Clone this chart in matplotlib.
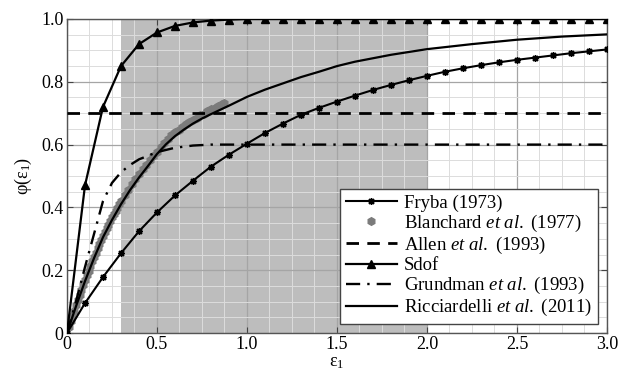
import numpy as np
import matplotlib
matplotlib.use("Agg")
import matplotlib.pyplot as plt
from matplotlib.ticker import MultipleLocator

plt.rcParams["font.family"] = "serif"
plt.rcParams["font.serif"] = ["Liberation Serif", "DejaVu Serif"]
plt.rcParams["mathtext.fontset"] = "custom"
plt.rcParams["mathtext.rm"] = "Liberation Serif"
plt.rcParams["mathtext.it"] = "Liberation Serif:italic"

# Reduced velocity grid shared by the marker curves (step 0.1)
eps_grid = [round(0.1 * i, 1) for i in range(31)]

fryba_phi = [0.0, 0.095, 0.178, 0.254, 0.324, 0.384, 0.438, 0.485, 0.530, 0.568,
             0.603, 0.637, 0.667, 0.695, 0.717, 0.737, 0.756, 0.774, 0.790, 0.805,
             0.819, 0.832, 0.843, 0.853, 0.862, 0.870, 0.877, 0.884, 0.891, 0.897,
             0.903]

sdof_phi = [0.0, 0.47, 0.72, 0.85, 0.92, 0.957, 0.978, 0.989, 0.995, 0.998,
            1.0, 1.0, 1.0, 1.0, 1.0, 1.0, 1.0, 1.0, 1.0, 1.0,
            1.0, 1.0, 1.0, 1.0, 1.0, 1.0, 1.0, 1.0, 1.0, 1.0, 1.0]

# Experimental data (Blanchard et al.)
blanchard_eps = [0.01, 0.02, 0.03, 0.04, 0.05, 0.06, 0.07, 0.08, 0.09, 0.10,
                 0.11, 0.12, 0.13, 0.14, 0.15, 0.16, 0.17, 0.18, 0.19, 0.20,
                 0.21, 0.22, 0.23, 0.24, 0.25, 0.26, 0.27, 0.28, 0.29, 0.30,
                 0.32, 0.34, 0.36, 0.38, 0.40, 0.42, 0.44, 0.46, 0.48, 0.50,
                 0.52, 0.54, 0.56, 0.58, 0.60, 0.62, 0.64, 0.66, 0.68, 0.70,
                 0.72, 0.74, 0.76, 0.78, 0.80, 0.82, 0.84, 0.86, 0.87]
blanchard_phi = [0.020, 0.037, 0.053, 0.070, 0.088, 0.104, 0.120, 0.136, 0.152, 0.168,
                 0.184, 0.198, 0.213, 0.228, 0.243, 0.256, 0.270, 0.283, 0.297, 0.310,
                 0.322, 0.334, 0.345, 0.357, 0.368, 0.379, 0.389, 0.399, 0.410, 0.419,
                 0.438, 0.456, 0.474, 0.491, 0.506, 0.521, 0.536, 0.550, 0.564, 0.578,
                 0.592, 0.606, 0.618, 0.629, 0.639, 0.648, 0.657, 0.665, 0.673, 0.679,
                 0.686, 0.693, 0.699, 0.706, 0.712, 0.718, 0.724, 0.729, 0.733]

allen_eps = [0.0, 3.0]
allen_phi = [0.7, 0.7]

grundman_eps = [0.0, 0.05, 0.10, 0.15, 0.20, 0.25, 0.30, 0.35, 0.40, 0.50,
                0.60, 0.70, 0.80, 3.0]
grundman_phi = [0.0, 0.10, 0.21, 0.315, 0.42, 0.478, 0.512, 0.535, 0.553, 0.576,
                0.590, 0.597, 0.600, 0.600]

ricc_eps = [0.0, 0.05, 0.10, 0.15, 0.20, 0.25, 0.30, 0.35, 0.40, 0.45, 0.50,
            0.55, 0.60, 0.65, 0.70, 0.75, 0.80, 0.90, 1.00, 1.10, 1.20, 1.30,
            1.40, 1.50, 1.60, 1.80, 2.00, 2.25, 2.50, 2.75, 3.00]
ricc_phi = [0.0, 0.085, 0.165, 0.238, 0.305, 0.360, 0.410, 0.455, 0.495, 0.532, 0.570,
            0.601, 0.627, 0.648, 0.667, 0.683, 0.697, 0.724, 0.752, 0.775, 0.795, 0.815,
            0.832, 0.850, 0.864, 0.886, 0.904, 0.920, 0.934, 0.944, 0.951]

lock_in_range = (0.3, 2.0)

fig = plt.figure(figsize=(6.29, 3.71), dpi=100)
ax = fig.add_axes([0.1065, 0.1024, 0.8585, 0.8464])

ax.axvspan(*lock_in_range, color="#bdbdbd", lw=0, zorder=0.5)

ax.plot(eps_grid, fryba_phi, color="black", lw=1.5, marker=(8, 2, 0),
        ms=5, mew=1.0, label="Fryba (1973)", zorder=3)
ax.plot(blanchard_eps, blanchard_phi, ls="none", marker="h", ms=5.5,
        color="#7b7b7b", mec="#7b7b7b", label=r"Blanchard $et\ al.$ (1977)", zorder=2.5)
ax.plot(allen_eps, allen_phi, color="black", lw=2.0, dashes=(4.5, 3),
        label=r"Allen $et\ al.$ (1993)", zorder=3)
ax.plot(eps_grid, sdof_phi, color="black", lw=1.6, marker="^", ms=6,
        label="Sdof", zorder=3)
ax.plot(grundman_eps, grundman_phi, color="black", lw=1.7, dashes=(6, 3, 1, 3),
        label=r"Grundman $et\ al.$ (1993)", zorder=3)
ax.plot(ricc_eps, ricc_phi, color="black", lw=1.6,
        label=r"Ricciardelli $et\ al.$ (2011)", zorder=3)

ax.set_xlim(0, 3.0)
ax.set_ylim(0, 1.0)
ax.xaxis.set_minor_locator(MultipleLocator(0.125))
ax.yaxis.set_minor_locator(MultipleLocator(0.05))
ax.set_xticks([0, 0.5, 1.0, 1.5, 2.0, 2.5, 3.0])
ax.set_xticklabels(["0", "0.5", "1.0", "1.5", "2.0", "2.5", "3.0"])
ax.set_yticks([0, 0.2, 0.4, 0.6, 0.8, 1.0])
ax.set_yticklabels(["0", "0.2", "0.4", "0.6", "0.8", "1.0"])

ax.grid(which="major", color="#a5a5a5", lw=0.9)
ax.grid(which="minor", color="#dcdcdc", lw=0.7)
ax.tick_params(which="major", direction="in", top=True, right=True, length=4,
               color="#444444", labelsize=13, pad=2.5)
ax.tick_params(which="minor", length=0)
for sp in ax.spines.values():
    sp.set_color("#555555")
    sp.set_linewidth(1.0)

ax.set_xlabel(r"$\mathrm{\varepsilon}_1$", fontsize=13, labelpad=0.5)
ax.set_ylabel(r"$\mathrm{\varphi}(\mathrm{\varepsilon}_1)$", fontsize=13, labelpad=5)

leg = ax.legend(loc="lower right", bbox_to_anchor=(0.983, 0.029), fontsize=13.5,
                frameon=True, fancybox=False, framealpha=1, edgecolor="#444444",
                handlelength=2.7, handletextpad=0.4, labelspacing=0.05,
                borderpad=0.3, borderaxespad=0)
leg.get_frame().set_linewidth(1.0)

fig.savefig("out.png", dpi=100)
